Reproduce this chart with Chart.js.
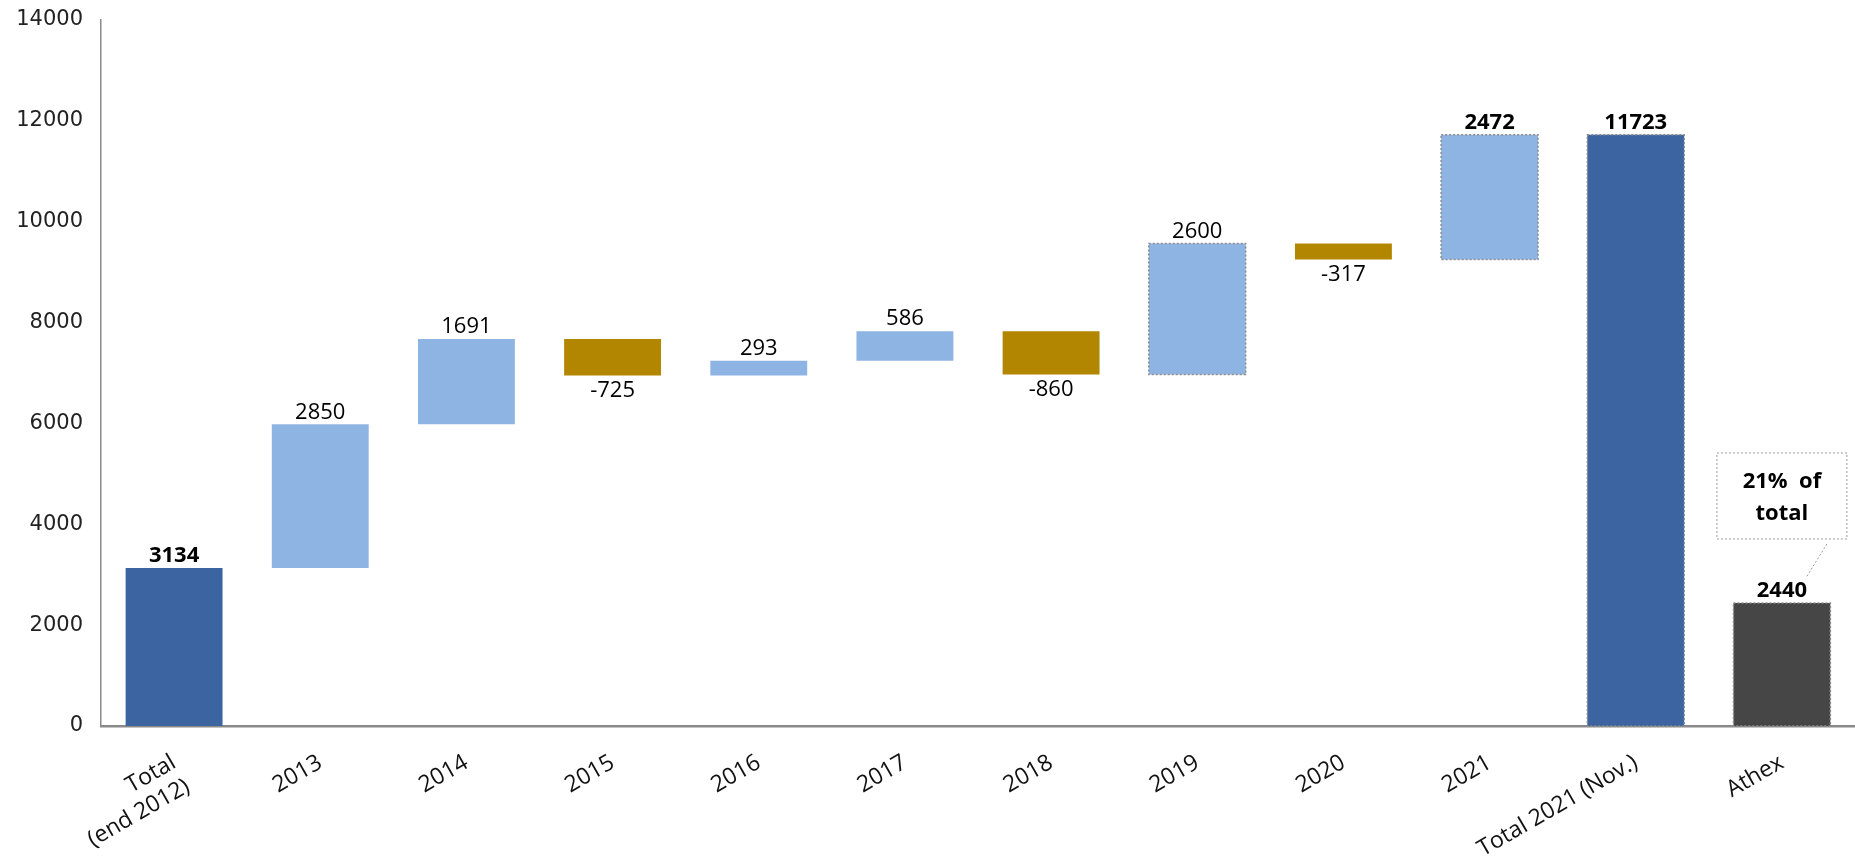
<!DOCTYPE html>
<html>
<head>
<meta charset="utf-8">
<title>Waterfall</title>
<script src="https://cdn.jsdelivr.net/npm/chart.js@4.4.1/dist/chart.umd.min.js"></script>
<style>
    body { margin: 0; background: #fff; }
    #wrap { width: 1855px; height: 868px; position: relative; }
</style>
</head>
<body>
<div id="wrap"><canvas id="waterfallChart"></canvas></div>
<script>
// categories on the x axis
var categories = [['Total', '(end 2012)'], '2013', '2014', '2015', '2016', '2017', '2018', '2019', '2020', '2021', 'Total 2021 (Nov.)', 'Athex'];
// values shown on each bar (totals are absolute, the rest are yearly changes)
var values = [3134, 2850, 1691, -725, 293, 586, -860, 2600, -317, 2472, 11723, 2440];
// kind of bar: total / step / other
var kinds = ['total', 'step', 'step', 'step', 'step', 'step', 'step', 'step', 'step', 'step', 'total', 'other'];
// which bars have a dotted outline and which labels are bold
var dotted = [false, false, false, false, false, false, false, true, false, true, true, true];
var boldLabel = [true, false, false, false, false, false, false, false, false, true, true, true];
var yTicks = [0, 2000, 4000, 6000, 8000, 10000, 12000, 14000];
var note = ['21%  of', 'total'];

var colTotal = '#3b64a0';
var colUp = '#8eb4e3';
var colDown = '#b38600';
var colOther = '#464646';

// build floating bars from the running total
var floats = [];
var colors = [];
var running = 0;
for (var i = 0; i < values.length; i++) {
    if (kinds[i] === 'step') {
        floats.push([running, running + values[i]]);
        running += values[i];
        colors.push(values[i] >= 0 ? colUp : colDown);
    } else {
        floats.push([0, values[i]]);
        if (kinds[i] === 'total') running = values[i];
        colors.push(kinds[i] === 'total' ? colTotal : colOther);
    }
}

var labelFont = '"Open Sans", "Noto Sans", sans-serif';

// labels, dotted outlines and the note box
var extrasPlugin = {
    id: 'extras',
    afterDatasetsDraw: function (chart) {
        var ctx = chart.ctx;
        var meta = chart.getDatasetMeta(0);
        ctx.save();
        meta.data.forEach(function (bar, i) {
            var top = Math.min(bar.y, bar.base);
            var bottom = Math.max(bar.y, bar.base);
            var left = bar.x - bar.width / 2;

            if (dotted[i]) {
                ctx.setLineDash([2, 2]);
                ctx.strokeStyle = '#8c8c8c';
                ctx.lineWidth = 1.5;
                ctx.strokeRect(left, top, bar.width, bottom - top);
                ctx.setLineDash([]);
            }

            ctx.fillStyle = '#000';
            ctx.textAlign = 'center';
            ctx.font = (boldLabel[i] ? 'bold ' : '') + '22px ' + labelFont;
            if (values[i] >= 0) {
                ctx.textBaseline = 'bottom';
                ctx.fillText(String(values[i]), bar.x, top - 1);
            } else {
                ctx.textBaseline = 'top';
                ctx.fillText(String(values[i]), bar.x, bottom + 4);
            }
        });

        // note box over the last bar
        var last = meta.data[meta.data.length - 1];
        var lt = Math.min(last.y, last.base);
        var bx = last.x - 65, by = lt - 150, bw = 130, bh = 86;
        ctx.setLineDash([2, 2]);
        ctx.strokeStyle = '#9a9a9a';
        ctx.lineWidth = 1;
        ctx.strokeRect(bx, by, bw, bh);
        ctx.beginPath();
        ctx.moveTo(last.x + 45, by + bh + 5);
        ctx.lineTo(last.x + 24, lt - 25);
        ctx.stroke();
        ctx.setLineDash([]);
        ctx.fillStyle = '#000';
        ctx.font = 'bold 22px ' + labelFont;
        ctx.textBaseline = 'middle';
        ctx.fillText(note[0], last.x, by + 29);
        ctx.fillText(note[1], last.x, by + 61);
        ctx.restore();
    }
};

var canvas = document.getElementById('waterfallChart');
new Chart(canvas.getContext('2d'), {
    type: 'bar',
    data: {
        labels: categories,
        datasets: [
            {
                label: 'Value',
                data: floats,
                backgroundColor: colors,
                borderWidth: 0,
                borderSkipped: false,
                categoryPercentage: 1,
                barPercentage: 0.663
            }
        ]
    },
    options: {
        responsive: true,
        maintainAspectRatio: false,
        animation: false,
        layout: {
            padding: { top: 20, right: 0, left: 0, bottom: 0 }
        },
        plugins: {
            legend: { display: false },
            tooltip: { enabled: false }
        },
        scales: {
            x: {
                grid: { display: false },
                border: { display: true, color: '#8a8a8a', width: 2.5 },
                ticks: {
                    color: '#111',
                    font: { family: labelFont, size: 23 },
                    minRotation: 30,
                    maxRotation: 30,
                    padding: 15
                },
                afterFit: function (scale) { scale.height = 142; }
            },
            y: {
                min: 0,
                max: 14000,
                grid: { display: false, drawTicks: false },
                border: { display: true, color: '#8a8a8a', width: 1.5 },
                afterBuildTicks: function (scale) {
                    scale.ticks = yTicks.map(function (v) { return { value: v }; });
                },
                ticks: {
                    color: '#222',
                    font: { family: '"DejaVu Sans", sans-serif', size: 21 },
                    padding: 18,
                    callback: function (value) { return String(value); }
                },
                afterFit: function (scale) {
                    scale.width = 101;
                    scale.paddingTop = 0;
                    scale.paddingBottom = 0;
                }
            }
        }
    },
    plugins: [extrasPlugin]
});
</script>
</body>
</html>
